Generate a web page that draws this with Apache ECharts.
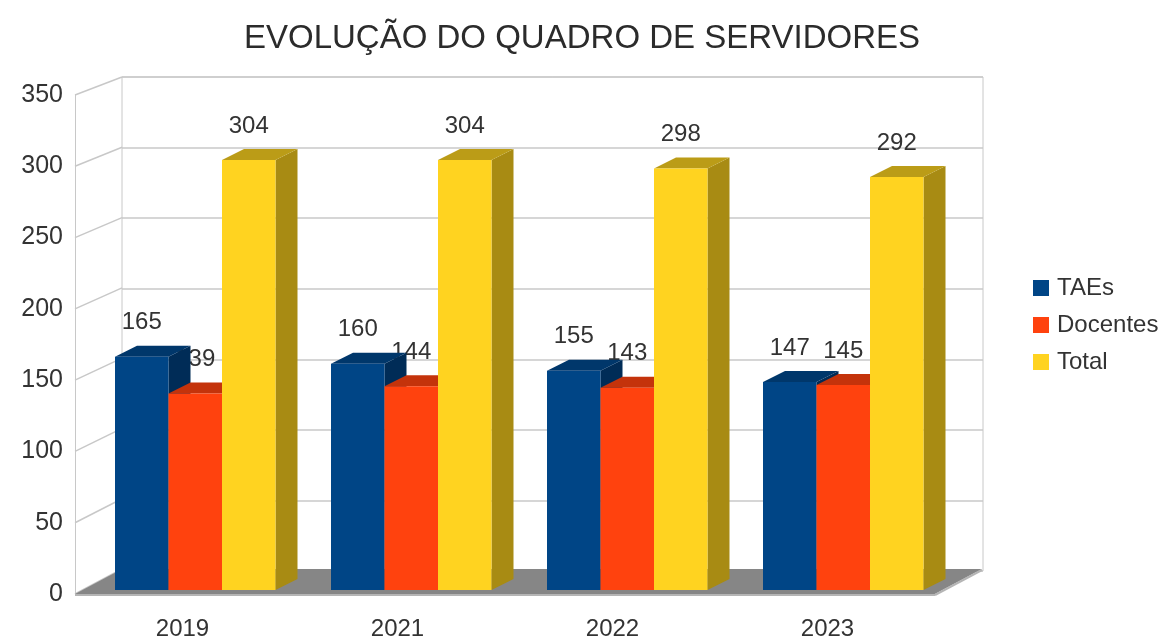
<!DOCTYPE html>
<html>
<head>
<meta charset="utf-8">
<title>Evolução do quadro de servidores</title>
<script src="https://cdn.jsdelivr.net/npm/echarts@6/dist/echarts.min.js"></script>
<style>
  html, body { margin: 0; padding: 0; background: #fff; }
  #chart { width: 1164px; height: 641px; }
</style>
</head>
<body>
<div id="chart"></div>
<script>
// dados
const anos = ['2019', '2021', '2022', '2023'];
const taes = [165, 160, 155, 147];
const docentes = [139, 144, 143, 145];
const total = [304, 304, 298, 292];
const yTicks = [0, 50, 100, 150, 200, 250, 300, 350];
const nomes = ['TAEs', 'Docentes', 'Total'];

// cores: frente, lado, topo
const cores = [
  { front: '#004586', side: '#002c57', top: '#00376b' },
  { front: '#ff420e', side: '#b02b08', top: '#c4330b' },
  { front: '#ffd320', side: '#a88b13', top: '#bb9c17' }
];

const FONT = "'Liberation Sans', Arial, sans-serif";
const WALL_DX = 47;          // profundidade da parede (x)
const BAR_DX = 22, BAR_DY = -11; // profundidade da barra
const BAR_OFFSET = 22, BAR_W = 53.5;

const chart = echarts.init(document.getElementById('chart'));

// barras "3D" desenhadas pelo eixo da grade 2
function barRender(k) {
  return function (params, api) {
    const cat = api.value(0), val = api.value(1);
    const base = api.coord([cat, 0]);
    const topP = api.coord([cat, val]);
    const bw = api.size([1, 0])[0];
    const x0 = base[0] - bw / 2 + BAR_OFFSET + k * BAR_W;
    const x1 = x0 + BAR_W;
    const yb = base[1], yt = topP[1];
    const c = cores[k];
    return {
      type: 'group',
      children: [
        { type: 'polygon', shape: { points: [[x1, yt], [x1 + BAR_DX, yt + BAR_DY], [x1 + BAR_DX, yb + BAR_DY], [x1, yb]] }, style: { fill: c.side } },
        { type: 'polygon', shape: { points: [[x0, yt], [x0 + BAR_DX, yt + BAR_DY], [x1 + BAR_DX, yt + BAR_DY], [x1, yt]] }, style: { fill: c.top } },
        { type: 'rect', shape: { x: x0, y: yt, width: BAR_W, height: yb - yt }, style: { fill: c.front } }
      ]
    };
  };
}

function labelRender(k) {
  return function (params, api) {
    const cat = api.value(0), val = api.value(1);
    const base = api.coord([cat, 0]);
    const topP = api.coord([cat, val]);
    const bw = api.size([1, 0])[0];
    const xc = base[0] - bw / 2 + BAR_OFFSET + k * BAR_W + BAR_W / 2;
    return {
      type: 'text',
      x: xc, y: topP[1] - 34,
      style: { text: String(val), fill: '#333', font: '24px ' + FONT, align: 'center', verticalAlign: 'middle' }
    };
  };
}

const valores = [taes, docentes, total];

const barSeries = valores.map((arr, k) => ({
  name: nomes[k],
  type: 'custom',
  xAxisIndex: 2, yAxisIndex: 2,
  z: 3 + k,
  itemStyle: { color: cores[k].front },
  data: arr.map((v, i) => [i, v]),
  encode: { x: 0, y: 1 },
  renderItem: barRender(k)
}));

const labelSeries = valores.map((arr, k) => ({
  name: nomes[k] + ' rótulo',
  type: 'custom',
  xAxisIndex: 2, yAxisIndex: 2,
  z: 2,
  silent: true,
  data: arr.map((v, i) => [i, v]),
  encode: { x: 0, y: 1 },
  renderItem: labelRender(k)
}));

const option = {
  backgroundColor: '#fff',
  animation: false,
  title: {
    text: 'EVOLUÇÃO DO QUADRO DE SERVIDORES',
    left: 'center',
    top: 17,
    textStyle: { fontFamily: FONT, fontSize: 33, fontWeight: 'normal', color: '#2b2b2b' }
  },
  legend: {
    data: nomes,
    orient: 'vertical',
    left: 1028,
    top: 271,
    icon: 'rect',
    itemWidth: 16,
    itemHeight: 16,
    itemGap: 13,
    textStyle: { fontFamily: FONT, fontSize: 24, color: '#333', padding: [0, 0, 0, 3] }
  },
  grid: [
    { left: 75, right: 229, top: 95, bottom: 45 },                                   // plano frontal
    { left: 122, right: 181, top: 77, bottom: 70, show: true, borderColor: '#c8c8c8', borderWidth: 1 }, // parede do fundo
    { left: 93, right: 207, top: 95, bottom: 51 }                                    // plano das barras
  ],
  xAxis: [
    { type: 'category', gridIndex: 0, data: anos, axisLine: { show: false }, axisTick: { show: false },
      axisLabel: { fontFamily: FONT, fontSize: 24, color: '#333', margin: 23 } },
    { type: 'category', gridIndex: 1, data: anos, show: false },
    { type: 'category', gridIndex: 2, data: anos, show: false }
  ],
  yAxis: [
    { type: 'value', gridIndex: 0, min: 0, max: 350, interval: 50,
      axisLine: { show: true, lineStyle: { color: '#c8c8c8' } }, axisTick: { show: false }, splitLine: { show: false },
      axisLabel: { fontFamily: FONT, fontSize: 25, color: '#333', margin: 12 } },
    { type: 'value', gridIndex: 1, min: 0, max: 350, interval: 50,
      axisLine: { show: false }, axisTick: { show: false }, axisLabel: { show: false },
      splitLine: { show: true, lineStyle: { color: '#c8c8c8', width: 1.5 } } },
    { type: 'value', gridIndex: 2, min: 0, max: 350, interval: 50, show: false }
  ],
  series: [
    // parede lateral esquerda
    {
      type: 'custom', name: 'parede', xAxisIndex: 0, yAxisIndex: 0, z: 1, silent: true,
      data: yTicks.map(v => [0, v]),
      encode: { x: 0, y: 1 },
      renderItem: function (params, api) {
        const v = api.value(1);
        const p = api.coord([0, v]);
        const x0 = params.coordSys.x;
        const dy = -25 + 7 * v / 350;
        return { type: 'line', shape: { x1: x0, y1: p[1], x2: x0 + WALL_DX, y2: p[1] + dy },
                 style: { stroke: '#c8c8c8', lineWidth: 1.5 } };
      }
    },
    // piso
    {
      type: 'custom', name: 'piso', xAxisIndex: 0, yAxisIndex: 0, z: 1, silent: true,
      data: [[0, 0]],
      encode: { x: 0, y: 1 },
      renderItem: function (params, api) {
        const cs = params.coordSys;
        const yb = api.coord([0, 0])[1];
        const xl = cs.x, xr = cs.x + cs.width;
        return {
          type: 'group',
          children: [
            { type: 'polygon', shape: { points: [[xl, yb], [xr, yb], [xr + WALL_DX, yb - 25], [xl + WALL_DX, yb - 25]] },
              style: { fill: '#868686' } },
            { type: 'line', shape: { x1: xl, y1: yb + 1, x2: xr, y2: yb + 1 }, style: { stroke: '#b5b5b5', lineWidth: 2 } },
            { type: 'line', shape: { x1: xr, y1: yb + 1, x2: xr + WALL_DX, y2: yb - 24 }, style: { stroke: '#b5b5b5', lineWidth: 2 } }
          ]
        };
      }
    }
  ].concat(labelSeries, barSeries)
};

chart.setOption(option);
</script>
</body>
</html>
